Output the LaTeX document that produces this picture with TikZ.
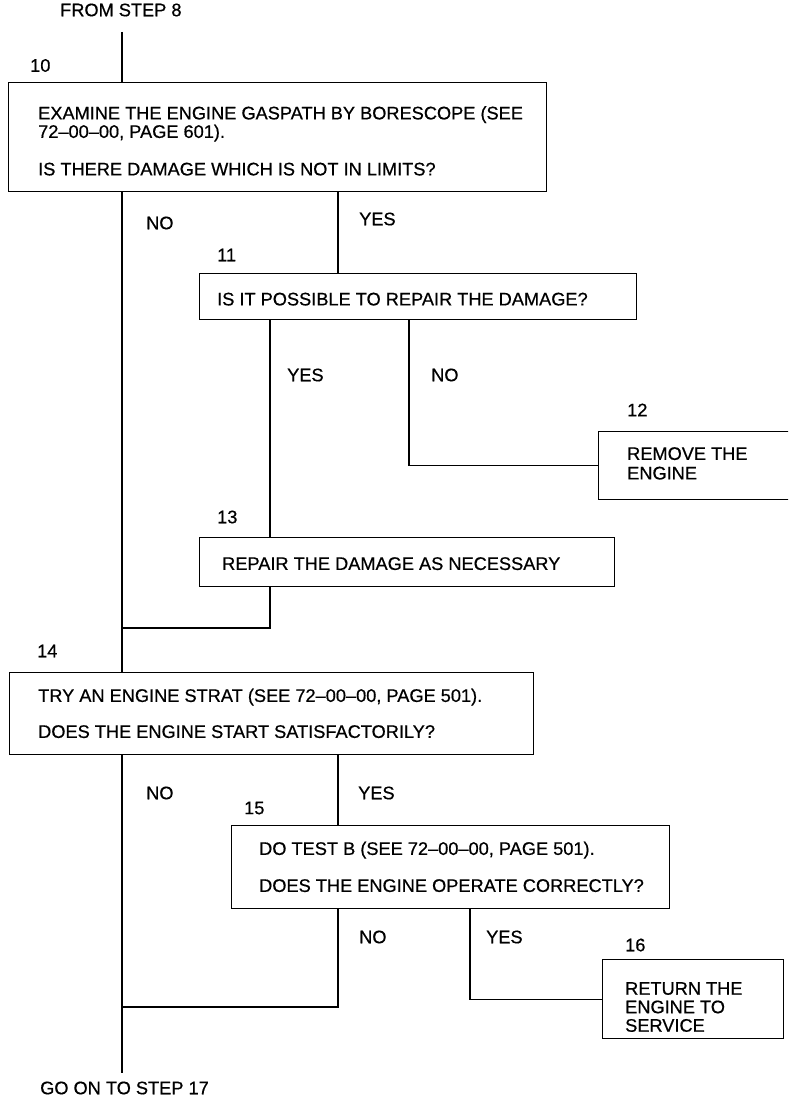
\documentclass[tikz,border=0pt]{standalone}
\usepackage{fontspec}
\setmainfont[FakeBold=0.6]{Liberation Sans}
\usetikzlibrary{calc}
\newcommand{\stepfont}{\fontsize{18.2}{19.5}\selectfont}

\begin{document}
\begin{tikzpicture}[x=1pt, y=-1pt,
		stepbox/.style={draw, line width=1.4pt, rectangle, inner sep=0pt, anchor=north west},
		txt/.style={anchor=north west, align=left, inner sep=0pt, font=\stepfont},
		lbl/.style={anchor=west, inner sep=0pt, font=\stepfont},
		link/.style={line width=1.4pt}]
		
		\useasboundingbox (0,0) rectangle (788,1105);
		\clip (0,0) rectangle (788,1105);
		
		%Coordinates
		\coordinate (main) at (122,32);
		\coordinate (yesA) at (338,0);
		\coordinate (yesB) at (270,0);
		\coordinate (noB) at (409,0);
		\coordinate (yesC) at (470,0);
		\coordinate (joinA) at (122,628);
		\coordinate (joinB) at (122,1007);
		\coordinate (goon) at (122,1073);
		
		%Boxes
		\node[stepbox, minimum width=538pt, minimum height=109pt] (s10) at (8,82) {};
		\node[stepbox, minimum width=437pt, minimum height=46.5pt] (s11) at (198.5,272.5) {};
		\node[stepbox, minimum width=210pt, minimum height=68.5pt] (s12) at (598,430.5) {};
		\node[stepbox, minimum width=415pt, minimum height=49pt] (s13) at (199,537) {};
		\node[stepbox, minimum width=524pt, minimum height=82.5pt] (s14) at (9,671.5) {};
		\node[stepbox, minimum width=438pt, minimum height=83pt] (s15) at (231,825) {};
		\node[stepbox, minimum width=181pt, minimum height=79pt] (s16) at (601.5,959) {};
		
		%Texts
		\node[txt] (t10) at (38,106) {EXAMINE THE ENGINE GASPATH BY BORESCOPE (SEE\\[-1pt]72--00--00, PAGE 601).\\[18pt]IS THERE DAMAGE WHICH IS NOT IN LIMITS?};
		\node[txt] (t11) at (217,292.5) {IS IT POSSIBLE TO REPAIR THE DAMAGE?};
		\node[txt] (t12) at (627,447) {REMOVE THE\\ENGINE};
		\node[txt] (t13) at (222,557) {REPAIR THE DAMAGE AS NECESSARY};
		\node[txt] (t14) at (38,688.5) {TRY AN ENGINE STRAT (SEE 72--00--00, PAGE 501).\\[16.5pt]DOES THE ENGINE START SATISFACTORILY?};
		\node[txt] (t15) at (259,841.5) {DO TEST B (SEE 72--00--00, PAGE 501).\\[17.5pt]DOES THE ENGINE OPERATE CORRECTLY?};
		\node[txt] (t16) at (625,982) {RETURN THE\\[-1pt]ENGINE TO\\[-1pt]SERVICE};
		
		%Flow
		\draw[link] (main) -- (s10.north -| main);
		\draw[link] (s10.south -| main) -- (s14.north -| main);
		\draw[link] (s10.south -| yesA) -- (s11.north -| yesA);
		\draw[link] (s11.south -| yesB) -- (s13.north -| yesB);
		\draw[link] (s11.south -| noB) |- (s12.west);
		\draw[link] (s13.south -| yesB) |- (joinA);
		\draw[link] (s14.south -| main) -- (goon);
		\draw[link] (s14.south -| yesA) -- (s15.north -| yesA);
		\draw[link] (s15.south -| yesA) |- (joinB);
		\draw[link] (s15.south -| yesC) |- (s16.west);
		
		%Nodes
		\node[lbl] (from) at (60,10) {FROM STEP 8};
		\node[lbl] (go) at (40,1088) {GO ON TO STEP 17};
		\node[lbl] (n10) at (30,65.5) {10};
		\node[lbl] (n11) at (217,255) {11};
		\node[lbl] (n12) at (627,410) {12};
		\node[lbl] (n13) at (217,517) {13};
		\node[lbl] (n14) at (37,651) {14};
		\node[lbl] (n15) at (244,808) {15};
		\node[lbl] (n16) at (625,945) {16};
		\node[lbl] (no10) at (146,223) {NO};
		\node[lbl] (yes10) at (359,219) {YES};
		\node[lbl] (yes11) at (287,375) {YES};
		\node[lbl] (no11) at (431,375) {NO};
		\node[lbl] (no14) at (146,793) {NO};
		\node[lbl] (yes14) at (358,793) {YES};
		\node[lbl] (no15) at (359,937) {NO};
		\node[lbl] (yes15) at (486,937) {YES};
		
	\end{tikzpicture}
\end{document}
